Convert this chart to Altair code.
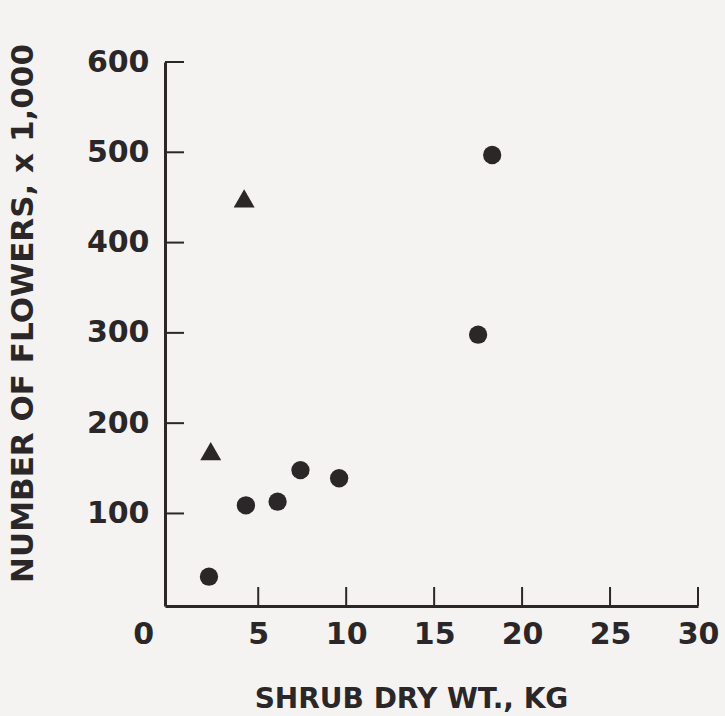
import altair as alt
import pandas as pd

# Shrub dry weight (kg) and flower counts (thousands)
circle_wt = [2.2, 4.3, 6.1, 7.4, 9.6, 17.5, 18.3]
circle_flowers = [30, 109, 113, 148, 139, 298, 497]
triangle_wt = [2.3, 4.2]
triangle_flowers = [169, 449]

x_ticks = [0, 5, 10, 15, 20, 25, 30]
y_ticks = [100, 200, 300, 400, 500, 600]

INK = "#2b2729"
FONT = "DejaVu Sans"
W, H = 533, 544
TICK_LEN = 19

points = pd.DataFrame({
    "wt": circle_wt + triangle_wt,
    "flowers": circle_flowers + triangle_flowers,
    "group": ["circle"] * len(circle_wt) + ["triangle"] * len(triangle_wt),
})

x_scale = alt.Scale(domain=[-0.3, 30], nice=False, zero=False)
y_scale = alt.Scale(domain=[-2.5, 600], nice=False, zero=False)

x_axis = alt.Axis(
    title="SHRUB DRY WT., KG",
    values=x_ticks,
    ticks=False,
    grid=False,
    domainColor=INK,
    domainWidth=3,
    labelFont=FONT,
    labelFontSize=30,
    labelFontWeight="bold",
    labelColor=INK,
    labelPadding=13,
    labelFlush=False,
    labelOffset={"condition": {"test": "datum.value === 0", "value": -27}, "value": 0},
    titleFont=FONT,
    titleFontSize=28,
    titleFontWeight="bold",
    titleColor=INK,
    titleX=246,
    titleY=93,
    titleAlign="center",
    titleBaseline="middle",
)

y_axis = alt.Axis(
    title="NUMBER OF FLOWERS, x 1,000",
    values=y_ticks,
    ticks=False,
    grid=False,
    domainColor=INK,
    domainWidth=3,
    labelFont=FONT,
    labelFontSize=30,
    labelFontWeight="bold",
    labelColor=INK,
    labelPadding=16,
    labelFlush=False,
    titleFont=FONT,
    titleFontSize=31,
    titleFontWeight="bold",
    titleColor=INK,
    titleAngle=270,
    titleX=-142,
    titleY=251,
    titleAlign="center",
    titleBaseline="middle",
)

pts = alt.Chart(points).mark_point(filled=True, opacity=1, color=INK).encode(
    x=alt.X("wt:Q", scale=x_scale, axis=x_axis),
    y=alt.Y("flowers:Q", scale=y_scale, axis=y_axis),
    shape=alt.Shape("group:N", scale=alt.Scale(domain=["circle", "triangle"],
                                               range=["circle", "triangle-up"]), legend=None),
    size=alt.Size("group:N", scale=alt.Scale(domain=["circle", "triangle"],
                                             range=[335, 440]), legend=None),
)

# Inward tick marks along both axes
xt = alt.Chart(pd.DataFrame({"v": [t for t in x_ticks if t > 0]})).mark_rule(
    color=INK, strokeWidth=2
).encode(
    x=alt.X("v:Q", scale=x_scale),
    y=alt.value(H),
    y2=alt.value(H - TICK_LEN),
)

yt = alt.Chart(pd.DataFrame({"v": y_ticks})).mark_rule(
    color=INK, strokeWidth=2
).encode(
    y=alt.Y("v:Q", scale=y_scale),
    x=alt.value(0),
    x2=alt.value(TICK_LEN),
)

chart = alt.layer(xt, yt, pts).properties(
    width=W,
    height=H,
    autosize=alt.AutoSizeParams(type="none"),
    padding={"left": 165, "top": 62, "right": 27, "bottom": 110},
).configure(
    background="#f4f3f1",
).configure_view(stroke=None)

chart.save("out.html", embed_options={"renderer": "svg", "actions": False})
